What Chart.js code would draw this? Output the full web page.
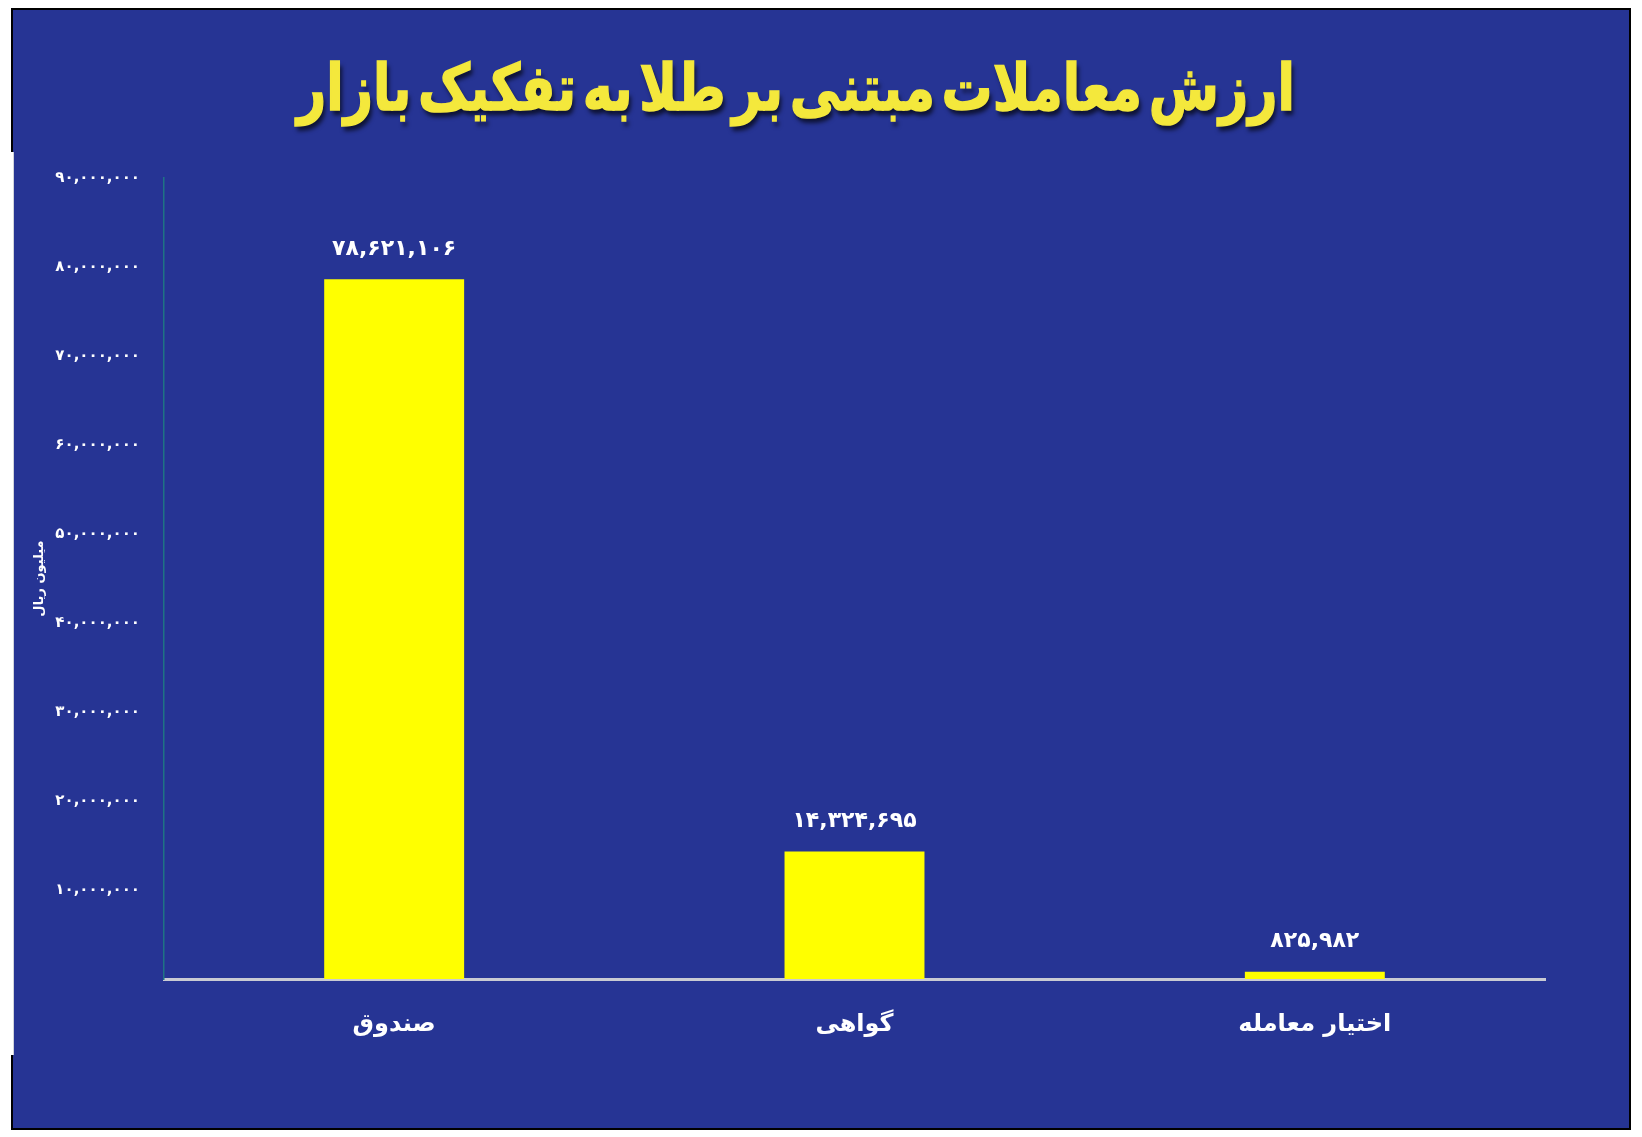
<!DOCTYPE html>
<html lang="fa">
<head>
<meta charset="utf-8">
<script src="https://cdn.jsdelivr.net/npm/chart.js@4.4.0/dist/chart.umd.min.js"></script>
<style>
  html, body { margin: 0; padding: 0; background: #fff; }
  #page { position: relative; width: 1642px; height: 1137px; overflow: hidden; }
  #frame {
    position: absolute; left: 11px; top: 8px; width: 1616px; height: 1118px;
    background: #263494; border: 2px solid #000;
  }
  #strip { position: absolute; left: 0; top: 152px; width: 13px; height: 903px; background: #fff; border-right: 1px solid #cfd3dc; }
  #titleBox { position: absolute; left: 796px; top: 56px; width: 0; height: 0; }
  #title {
    position: absolute; left: 0; top: 0; white-space: nowrap;
    direction: rtl; font-family: "DejaVu Sans", sans-serif; font-weight: bold;
    font-size: 64px; line-height: 1; color: #f4e83c; word-spacing: -14px;
    -webkit-text-stroke: 1.5px #f4e83c;
    text-shadow: 3px 5px 5px rgba(0, 0, 0, 0.65);
    transform: translateX(-50%) scaleX(0.795);
  }
  #wrap { position: absolute; left: 0; top: 0; width: 1642px; height: 1137px; }
</style>
</head>
<body>
<div id="page">
  <div id="frame"></div>
  <div id="strip"></div>
  <div id="titleBox"><div id="title">ارزش معاملات مبتنی بر طلا به تفکیک بازار</div></div>
  <div id="wrap"><canvas id="grafico"></canvas></div>
</div>
<script>
// دسته‌ها و مقادیر (میلیون ریال)
const bazarha = ['صندوق', 'گواهی', 'اختیار معامله'];
const arzesh = [78621106, 14324695, 825982];
const mehvarMax = 90000000;
const mehvarGam = 10000000;

const faDigits = '۰۱۲۳۴۵۶۷۸۹';
function toFa(n) {
    return n.toLocaleString('en-US').replace(/\d/g, d => faDigits[d]);
}

// برچسب مقدار بالای هر ستون
const barchasbPlugin = {
    id: 'barchasb',
    afterDatasetsDraw(chart) {
        const ctx = chart.ctx;
        const meta = chart.getDatasetMeta(0);
        ctx.save();
        ctx.fillStyle = '#ffffff';
        ctx.font = 'bold 22px "DejaVu Sans"';
        ctx.textAlign = 'center';
        ctx.textBaseline = 'middle';
        meta.data.forEach((bar, i) => {
            ctx.fillText(toFa(arzesh[i]), bar.x, bar.y - 30);
        });
        ctx.restore();
    }
};

const ctx = document.getElementById('grafico').getContext('2d');
new Chart(ctx, {
    type: 'bar',
    data: {
        labels: bazarha,
        datasets: [{
            data: arzesh,
            backgroundColor: '#ffff00',
            barPercentage: 0.304,
            categoryPercentage: 1
        }]
    },
    options: {
        responsive: true,
        maintainAspectRatio: false,
        animation: false,
        devicePixelRatio: 1,
        layout: { padding: { left: 20, right: 97, top: 178, bottom: 58 } },
        plugins: { legend: { display: false }, tooltip: { enabled: false } },
        scales: {
            x: {
                grid: { display: false, drawTicks: false },
                border: { display: true, color: '#c9cbd3', width: 3 },
                ticks: {
                    color: '#ffffff',
                    padding: 31,
                    font: { family: 'DejaVu Sans', size: 24, weight: 'bold' }
                },
                afterFit: s => { s.height = 100; }
            },
            y: {
                min: 0,
                max: mehvarMax,
                grid: { display: false, drawTicks: false },
                border: { display: true, color: '#1f7284', width: 1.5 },
                ticks: {
                    stepSize: mehvarGam,
                    color: '#ffffff',
                    padding: 24,
                    font: { family: 'DejaVu Sans', size: 15, weight: 'bold' },
                    callback: v => v === 0 ? '' : toFa(v)
                },
                title: {
                    display: true,
                    text: 'میلیون ریال',
                    color: '#ffffff',
                    padding: { top: 12, bottom: 0 },
                    font: { family: 'DejaVu Sans', size: 13, weight: 'bold' }
                },
                afterFit: s => { s.width = 144; }
            }
        }
    },
    plugins: [barchasbPlugin]
});
</script>
</body>
</html>
